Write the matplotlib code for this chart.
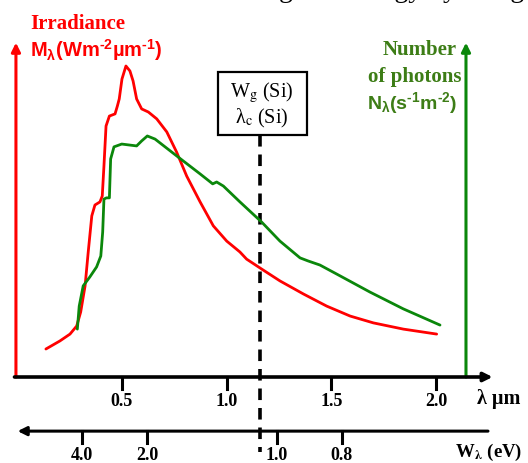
import matplotlib
matplotlib.use("Agg")
import matplotlib.pyplot as plt
from matplotlib.patches import Rectangle

# Curves (wavelength in um, relative height)
irr_wl = [0.138, 0.205, 0.253, 0.285, 0.304, 0.325, 0.340, 0.357, 0.372, 0.396,
          0.407, 0.415, 0.425, 0.441, 0.468, 0.479, 0.488, 0.501, 0.520, 0.539,
          0.554, 0.571, 0.595, 0.627, 0.667, 0.715, 0.762, 0.810, 0.874, 0.937,
          1.001, 1.064, 1.096, 1.168, 1.255, 1.367, 1.478, 1.590, 1.701, 1.844,
          2.003]
irr_val = [0.090, 0.116, 0.138, 0.164, 0.209, 0.293, 0.402, 0.518, 0.553, 0.563,
           0.582, 0.678, 0.807, 0.839, 0.846, 0.871, 0.894, 0.958, 1.000, 0.984,
           0.952, 0.894, 0.862, 0.852, 0.830, 0.788, 0.723, 0.646, 0.563, 0.486,
           0.437, 0.402, 0.379, 0.347, 0.309, 0.267, 0.228, 0.196, 0.174, 0.154,
           0.138]

phot_wl = [0.288, 0.297, 0.316, 0.348, 0.380, 0.400, 0.409, 0.415, 0.427, 0.441,
           0.447, 0.463, 0.500, 0.571, 0.595, 0.622, 0.659, 0.762, 0.874, 0.934,
           0.953, 0.985, 1.064, 1.168, 1.255, 1.351, 1.390, 1.446, 1.526, 1.685,
           1.844, 2.019]
phot_val = [0.154, 0.228, 0.293, 0.322, 0.354, 0.389, 0.466, 0.572, 0.576, 0.576,
            0.701, 0.740, 0.749, 0.743, 0.759, 0.775, 0.765, 0.711, 0.653, 0.621,
            0.627, 0.614, 0.563, 0.498, 0.437, 0.383, 0.373, 0.360, 0.331, 0.273,
            0.219, 0.167]

wl_ticks = [0.5, 1.0, 1.5, 2.0]
ev_ticks = [4.0, 2.0, 1.0, 0.8]
wl_cut = 1.16  # Si cut-off wavelength

RED = "#ff0000"
GREEN = "#0b870b"
TEXT_GREEN = "#3d7d16"
HY = "\u2010"  # plain hyphen for exponents

plt.rcParams["mathtext.fontset"] = "custom"
plt.rcParams["mathtext.rm"] = "Liberation Sans:bold"
plt.rcParams["mathtext.it"] = "Liberation Sans:bold"
plt.rcParams["mathtext.bf"] = "Liberation Sans:bold"

fig = plt.figure(figsize=(5.28, 4.64), dpi=100)
ax = fig.add_axes([0, 0, 1, 1])
ax.set_xlim(-0.0811, 2.439)
ax.set_ylim(-0.2765, 1.2154)
ax.axis("off")

serif = "Liberation Serif"


def arrow(x0, y0, x1, y1, color, lw=2.2):
    ax.annotate("", xy=(x1, y1), xytext=(x0, y0),
                arrowprops=dict(arrowstyle="-|>", color=color, lw=lw,
                                mutation_scale=13, shrinkA=0, shrinkB=0))


# vertical axes
arrow(-0.005, 0, -0.005, 1.075, RED)
arrow(2.143, 0, 2.143, 1.075, GREEN)
# wavelength axis
arrow(-0.012, 0, 2.27, 0, "black", lw=2.6)
for t in wl_ticks:
    ax.plot([t, t], [0, -0.04], color="black", lw=2.2)
    ax.text(t, -0.077, f"{t:.1f}", ha="center", va="center",
            fontsize=13, fontweight="bold", family=serif)
ax.text(2.195, -0.066, "λ µm", ha="left", va="center",
        fontsize=14.5, fontweight="bold", family=serif)

# energy axis (W = 1.24 / lambda)
arrow(2.248, -0.174, 0.003, -0.174, "black", lw=2.2)
for e in ev_ticks:
    x = 1.24 / e
    ax.plot([x, x], [-0.174, -0.213], color="black", lw=2.2)
    ax.text(x, -0.249, f"{e:.1f}", ha="center", va="center",
            fontsize=13, fontweight="bold", family=serif)
ax.text(2.090, -0.240, r"W$_{\mathbf{\lambda}}$ (eV)", ha="left", va="center",
        fontsize=13.5, fontweight="bold", family=serif, math_fontfamily="stix")

# Si cut-off
ax.plot([wl_cut, wl_cut], [0.778, -0.240], color="black", lw=2.6,
        linestyle=(0, (3.2, 2.2)))
ax.add_patch(Rectangle((0.959, 0.778), 0.425, 0.203, fill=False,
                       edgecolor="black", lw=1.6))
ax.text(1.17, 0.918, r"W$_\mathrm{g}$ (Si)", ha="center", va="center",
        fontsize=14.5, family=serif, math_fontfamily="stix")
ax.text(1.17, 0.833, r"λ$_\mathrm{c}$ (Si)", ha="center", va="center",
        fontsize=14.5, family=serif, math_fontfamily="stix")

# curves
ax.plot(irr_wl, irr_val, color=RED, lw=2.0, solid_joinstyle="round",
        solid_capstyle="round")
ax.plot(phot_wl, phot_val, color=GREEN, lw=2.0, solid_joinstyle="round",
        solid_capstyle="round")

# labels
ax.text(0.062, 1.138, "Irradiance", ha="left", va="center", color=RED,
        fontsize=15, fontweight="bold", family=serif)
ax.text(0.062, 1.055, "M$_\\lambda$(Wm$^{" + HY + "2}$µm$^{" + HY + "1}$)",
        ha="left", va="center", color=RED, fontsize=14.5, fontweight="bold",
        family="Liberation Sans")
ax.text(2.100, 1.055, "Number", ha="right", va="center", color=TEXT_GREEN,
        fontsize=15, fontweight="bold", family=serif)
ax.text(2.122, 0.968, "of photons", ha="right", va="center", color=TEXT_GREEN,
        fontsize=15, fontweight="bold", family=serif)
ax.text(2.100, 0.884, "N$_\\lambda$(s$^{" + HY + "1}$m$^{" + HY + "2}$)",
        ha="right", va="center", color=TEXT_GREEN, fontsize=14,
        fontweight="bold", family="Liberation Sans")

# title cut off at the top edge
ax.text(2.42, 1.224, "Converting and energy by using", ha="right",
        va="baseline", fontsize=20, family=serif, clip_on=False)

fig.savefig("out.png", dpi=100)
